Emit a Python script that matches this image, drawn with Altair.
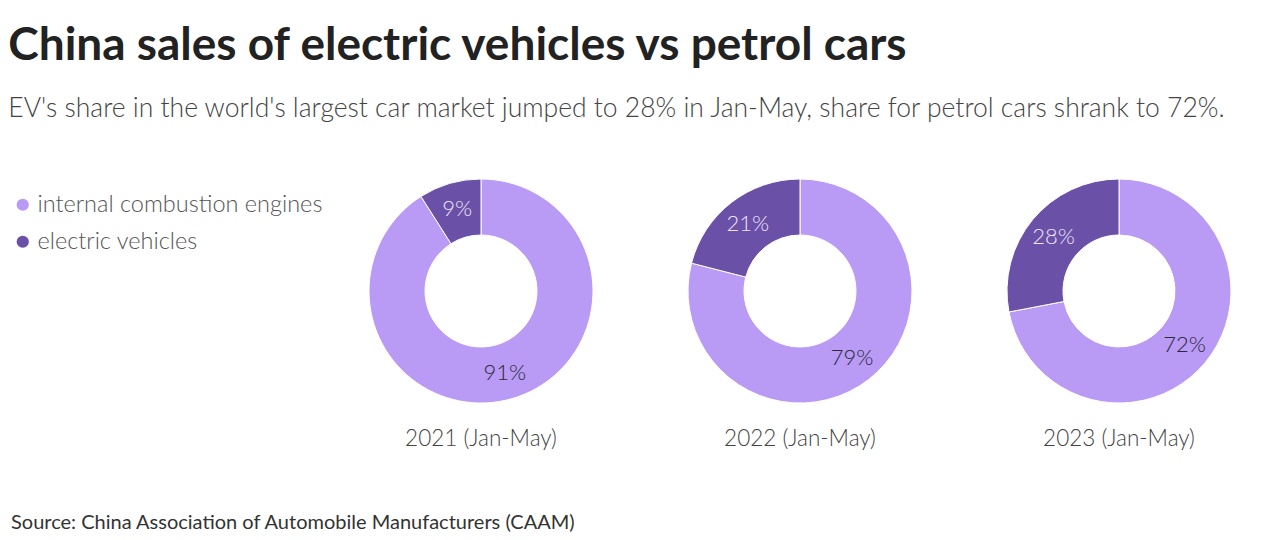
import altair as alt
import pandas as pd

years = ["2021 (Jan-May)", "2022 (Jan-May)", "2023 (Jan-May)"]
categories = ["internal combustion engines", "electric vehicles"]
ice_share = [91, 79, 72]
ev_share = [9, 21, 28]
colors = ["#b99af5", "#6a50a6"]

rows = []
for y, ice, ev in zip(years, ice_share, ev_share):
    rows.append({"year": y, "type": categories[0], "share": ice, "order": 0, "label": f"{ice}%"})
    rows.append({"year": y, "type": categories[1], "share": ev, "order": 1, "label": f"{ev}%"})
df = pd.DataFrame(rows)

FONT = "Lato"
PANEL_H = 236

color = alt.Color(
    "type:N",
    scale=alt.Scale(domain=categories, range=colors),
    sort=categories,
    legend=alt.Legend(
        title=None,
        orient="none",
        legendX=0,
        legendY=20,
        padding=0,
        symbolType="circle",
        symbolSize=150,
        symbolStrokeWidth=0,
        labelFontSize=23.5,
        labelFont=FONT,
        labelFontWeight=300,
        labelColor="#555555",
        labelLimit=400,
        rowPadding=12,
        labelOffset=3,
    ),
)


def pie(year):
    base = alt.Chart(df).transform_filter(alt.datum.year == year).encode(
        theta=alt.Theta("share:Q", stack=True),
        order=alt.Order("order:Q"),
    )
    arc = base.mark_arc(radius=112, innerRadius=56, stroke="white", strokeWidth=1).encode(color=color)
    text = base.mark_text(radius=85, font=FONT, fontSize=22, fontWeight=300).encode(
        text="label:N",
        color=alt.condition(alt.datum.order == 0, alt.value("#2a2a3a"), alt.value("#ece4fb")),
    )
    return (arc + text).properties(
        width=280,
        height=PANEL_H,
        title=alt.TitleParams(
            year, orient="bottom", font=FONT, fontSize=22.5, fontWeight=300, color="#444444", offset=19
        ),
    )


spacer = alt.Chart(pd.DataFrame({"a": [0]})).mark_point(opacity=0).encode(
    x=alt.value(0), y=alt.value(0)
).properties(width=291, height=PANEL_H)

pies = alt.hconcat(spacer, *[pie(y) for y in years], spacing=39)

source_df = pd.DataFrame({"t": ["Source: China Association of Automobile Manufacturers (CAAM)"]})
source = alt.Chart(source_df).mark_text(
    align="left", baseline="middle", font=FONT, fontSize=20, color="#333333"
).encode(text="t:N", x=alt.value(0), y=alt.value(10)).properties(width=600, height=20)

chart = alt.vconcat(pies, source, spacing=62).resolve_scale(color="independent").properties(
    title=alt.TitleParams(
        "China sales of electric vehicles vs petrol cars",
        subtitle="EV's share in the world's largest car market jumped to 28% in Jan-May, share for petrol cars shrank to 72%.",
        anchor="start",
        font=FONT,
        fontSize=46,
        fontWeight="bold",
        color="#222222",
        subtitleFont=FONT,
        subtitleFontSize=26.5,
        subtitleFontWeight=300,
        subtitleColor="#444444",
        subtitlePadding=26,
        offset=47,
    ),
    padding={"left": 0, "top": 14, "right": 0, "bottom": 0},
).configure_view(stroke=None).configure_concat(spacing=0)

chart.save("out.html", embed_options={"renderer": "svg", "actions": False})
